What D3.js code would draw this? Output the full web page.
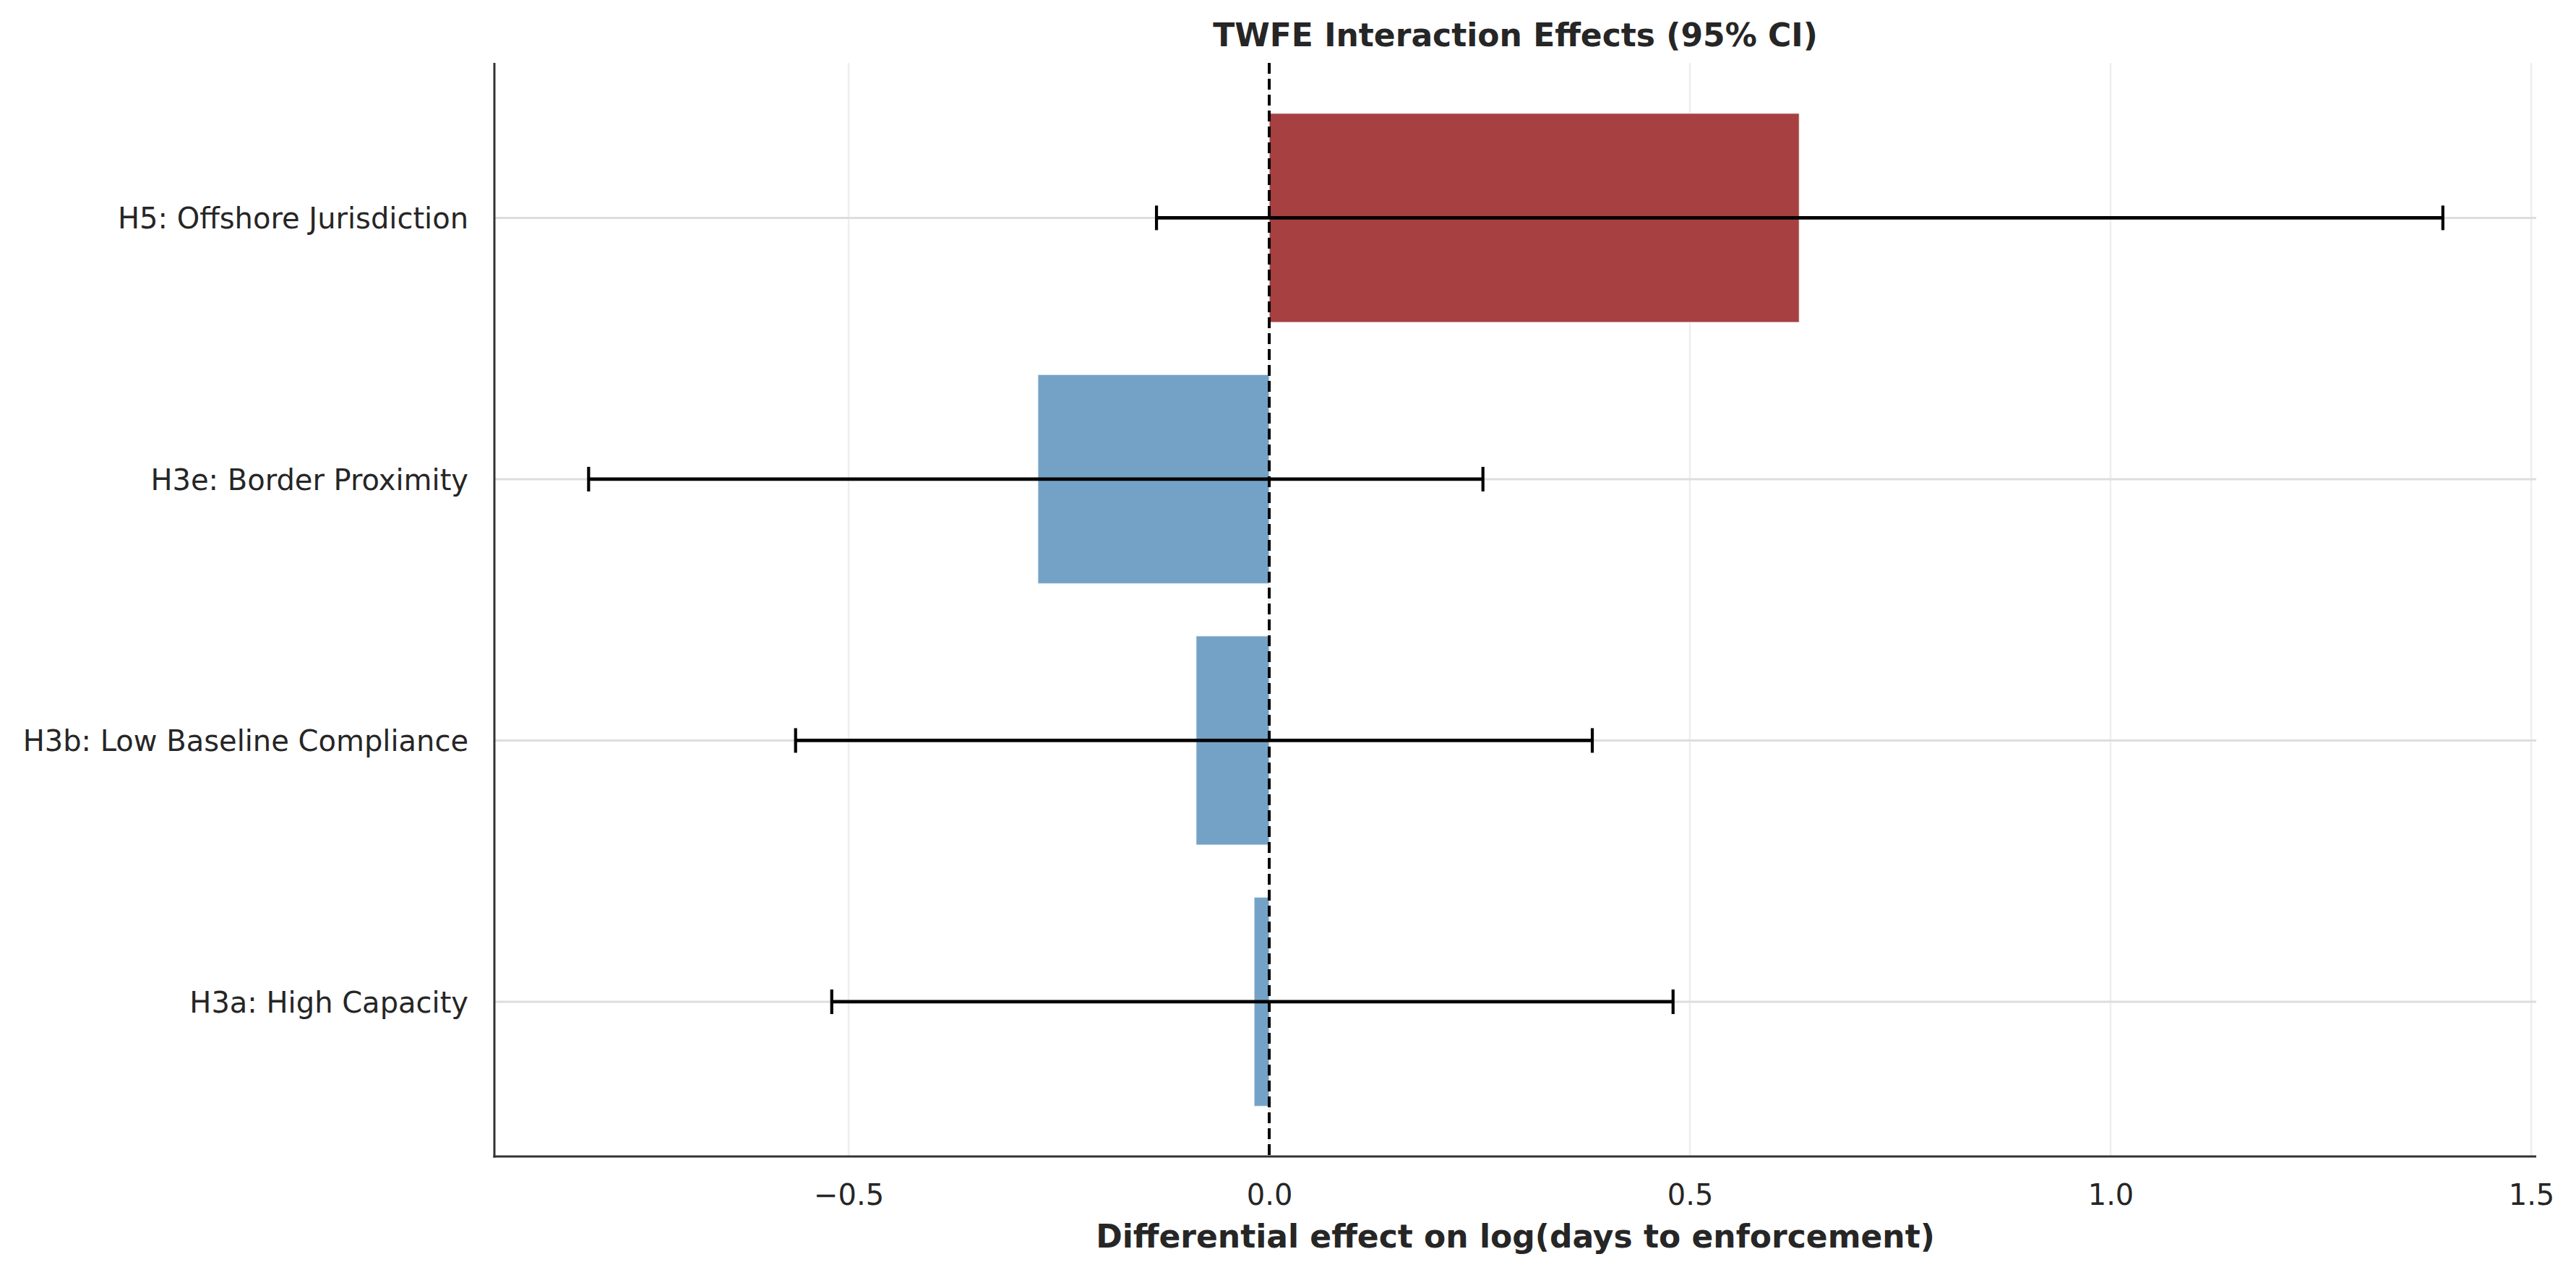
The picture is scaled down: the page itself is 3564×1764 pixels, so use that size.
<!DOCTYPE html>
<html>
<head>
<meta charset="utf-8">
<script src="https://cdn.jsdelivr.net/npm/d3@7"></script>
<style>
  html, body { margin: 0; padding: 0; background: #ffffff; }
  svg { display: block; }
  text { font-family: "DejaVu Sans", sans-serif; fill: #262626; }
</style>
</head>
<body>
<script>
// ---- data (bottom to top order) ----
const categories = ["H3a: High Capacity", "H3b: Low Baseline Compliance", "H3e: Border Proximity", "H5: Offshore Jurisdiction"];
const estimates  = [-0.018, -0.087, -0.275, 0.630];
const ciLow      = [-0.520, -0.563, -0.809, -0.134];
const ciHigh     = [0.480, 0.384, 0.254, 1.395];
const xTicks     = [-0.5, 0.0, 0.5, 1.0, 1.5];
const titleText  = "TWFE Interaction Effects (95% CI)";
const xLabelText = "Differential effect on log(days to enforcement)";

const W = 3564, H = 1764;
const plot = { left: 684, right: 3509, top: 87, bottom: 1600 };

const svg = d3.select("body").append("svg").attr("width", W).attr("height", H);

const x = d3.scaleLinear().domain([-0.921, 1.506]).range([plot.left, plot.right]);
const y = d3.scaleLinear().domain([-0.592, 3.593]).range([plot.bottom, plot.top]);
const barH = y(0) - y(0.8);

const posColor = "#a64041", negColor = "#74a2c6";

// vertical grid
svg.append("g").selectAll("line").data(xTicks).join("line")
  .attr("x1", d => x(d)).attr("x2", d => x(d))
  .attr("y1", plot.top).attr("y2", plot.bottom)
  .attr("stroke", "#eeeeee").attr("stroke-width", 2.5);

// horizontal grid
svg.append("g").selectAll("line").data(categories).join("line")
  .attr("x1", plot.left).attr("x2", plot.right)
  .attr("y1", (d, i) => y(i)).attr("y2", (d, i) => y(i))
  .attr("stroke", "#dddddd").attr("stroke-width", 3);

// bars
svg.append("g").selectAll("rect").data(estimates).join("rect")
  .attr("x", d => Math.min(x(0), x(d)))
  .attr("width", d => Math.abs(x(d) - x(0)))
  .attr("y", (d, i) => y(i) - barH / 2)
  .attr("height", barH)
  .attr("fill", d => d >= 0 ? posColor : negColor)
  .attr("stroke", "#ffffff").attr("stroke-opacity", 0.6).attr("stroke-width", 1.5);

// zero line
svg.append("line")
  .attr("x1", x(0)).attr("x2", x(0)).attr("y1", plot.top).attr("y2", plot.bottom)
  .attr("stroke", "#000").attr("stroke-width", 4).attr("stroke-dasharray", "15,7");

// error bars
const eb = svg.append("g");
const capH = 34;
eb.selectAll("line.ci").data(categories).join("line").attr("class", "ci")
  .attr("x1", (d, i) => x(ciLow[i])).attr("x2", (d, i) => x(ciHigh[i]))
  .attr("y1", (d, i) => y(i)).attr("y2", (d, i) => y(i))
  .attr("stroke", "#000").attr("stroke-width", 4.8);
eb.selectAll("line.capl").data(categories).join("line").attr("class", "capl")
  .attr("x1", (d, i) => x(ciLow[i])).attr("x2", (d, i) => x(ciLow[i]))
  .attr("y1", (d, i) => y(i) - capH / 2).attr("y2", (d, i) => y(i) + capH / 2)
  .attr("stroke", "#000").attr("stroke-width", 4.2);
eb.selectAll("line.caph").data(categories).join("line").attr("class", "caph")
  .attr("x1", (d, i) => x(ciHigh[i])).attr("x2", (d, i) => x(ciHigh[i]))
  .attr("y1", (d, i) => y(i) - capH / 2).attr("y2", (d, i) => y(i) + capH / 2)
  .attr("stroke", "#000").attr("stroke-width", 4.2);

// spines
svg.append("line").attr("x1", plot.left).attr("x2", plot.left)
  .attr("y1", plot.top).attr("y2", plot.bottom + 1.5)
  .attr("stroke", "#333333").attr("stroke-width", 3);
svg.append("line").attr("x1", plot.left - 1.5).attr("x2", plot.right)
  .attr("y1", plot.bottom).attr("y2", plot.bottom)
  .attr("stroke", "#333333").attr("stroke-width", 3);

// x axis tick labels via d3 axis
const xAxis = d3.axisBottom(x).tickValues(xTicks).tickSize(0).tickPadding(0)
  .tickFormat(d => d3.format(".1f")(d).replace("-", "\u2212"));
const gx = svg.append("g").attr("transform", `translate(0,${plot.bottom})`).call(xAxis);
gx.select(".domain").remove();
gx.selectAll("text").attr("y", 67).attr("dy", null)
  .attr("font-size", 40).attr("font-family", "DejaVu Sans").attr("fill", "#262626");

// y axis tick labels
const yAxis = d3.axisLeft(y).tickValues(d3.range(categories.length)).tickSize(0).tickPadding(0)
  .tickFormat(i => categories[i]);
const gy = svg.append("g").attr("transform", `translate(${plot.left},0)`).call(yAxis);
gy.select(".domain").remove();
gy.selectAll("text").attr("x", -36).attr("dy", "0.36em")
  .attr("font-size", 40).attr("font-family", "DejaVu Sans").attr("fill", "#262626");

// title
svg.append("text").attr("x", (plot.left + plot.right) / 2).attr("y", 64)
  .attr("text-anchor", "middle").attr("font-size", 44).attr("font-weight", "bold")
  .text(titleText);

// x label
svg.append("text").attr("x", (plot.left + plot.right) / 2).attr("y", 1726)
  .attr("text-anchor", "middle").attr("font-size", 44).attr("font-weight", "bold")
  .text(xLabelText);
</script>
</body>
</html>
